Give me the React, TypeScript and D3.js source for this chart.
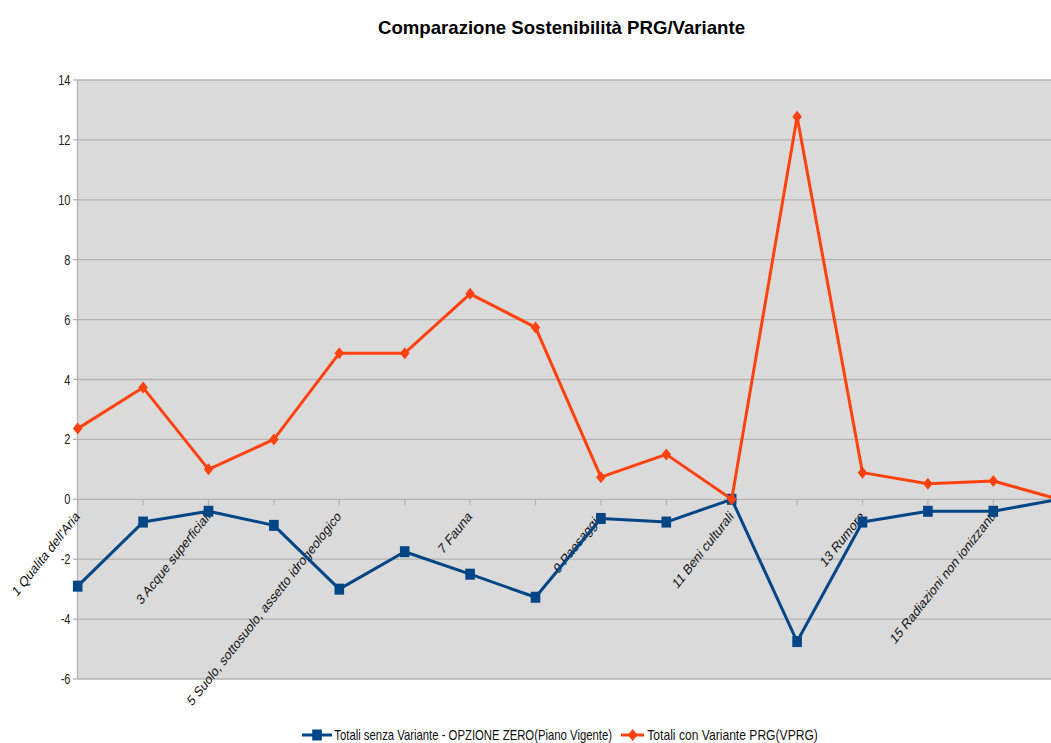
import React from "react";
import * as d3 from "d3";

// Categories of the sustainability matrix (only odd ones carry a visible label)
const categories = [
  "1 Qualita dell'Aria",
  "2",
  "3 Acque superficiali",
  "4",
  "5 Suolo, sottosuolo, assetto idrogeologico",
  "6",
  "7 Fauna",
  "8",
  "9 Paesaggio",
  "10",
  "11 Beni culturali",
  "12",
  "13 Rumore",
  "14",
  "15 Radiazioni non ionizzanti",
  "16",
];

// Totals without the variant (zero option, current plan)
const senzaVariante = [
  -2.9, -0.76, -0.4, -0.87, -3.0, -1.75, -2.5, -3.27, -0.64, -0.76, 0, -4.75,
  -0.76, -0.4, -0.4, 0,
];

// Totals with the PRG variant
const conVariante = [
  2.36, 3.73, 1.0, 2.0, 4.88, 4.88, 6.86, 5.74, 0.74, 1.5, 0, 12.77, 0.89, 0.52,
  0.61, 0,
];

const yTicks = [-6, -4, -2, 0, 2, 4, 6, 8, 10, 12, 14];

const seriesNames = [
  "Totali senza Variante - OPZIONE ZERO(Piano Vigente)",
  "Totali con Variante PRG(VPRG)",
];

const chartTitle = "Comparazione Sostenibilità PRG/Variante";

const W = 1051;
const H = 743;
const SX = 0.79; // horizontal condensing of the lettering
const FONT = "'Liberation Sans', Arial, Helvetica, sans-serif";
const BLUE = "#004586";
const ORANGE = "#ff420e";
const GRID = "#b3b3b3";
const WALL = "#dadada";

export default function App() {
  const plotLeft = 77.5;
  const plotTop = 80;
  const plotBottom = 679;

  const x = d3
    .scalePoint<string>()
    .domain(categories)
    .range([77.7, 1058.7]);
  const y = d3.scaleLinear().domain([-6, 14]).range([plotBottom, plotTop]);

  const line = d3
    .line<number>()
    .x((_, i) => x(categories[i]) as number)
    .y((d) => y(d));

  const plotRight = x(categories[categories.length - 1]) as number;

  const square = "M-4.8,-5.5 L4.8,-5.5 L4.8,5.5 L-4.8,5.5 Z";
  const diamond = "M0,-6 L4.8,0 L0,6 L-4.8,0 Z";

  return (
    <div style={{ position: "absolute", left: 0, top: 0 }}>
      <svg
        width={W}
        height={H}
        viewBox={`0 0 ${W} ${H}`}
        style={{ display: "block", background: "#ffffff", fontFamily: FONT }}
      >
        {/* title */}
        <text
          x={561.5}
          y={34}
          textAnchor="middle"
          fontSize={19}
          fontWeight="bold"
          fill="#000"
          textLength={367}
          lengthAdjust="spacingAndGlyphs"
        >
          {chartTitle}
        </text>

        {/* plot wall */}
        <rect
          x={plotLeft}
          y={plotTop}
          width={plotRight - plotLeft}
          height={plotBottom - plotTop}
          fill={WALL}
        />

        {/* horizontal gridlines and y axis */}
        {yTicks.map((t) => (
          <g key={t}>
            <line
              x1={plotLeft}
              x2={plotRight}
              y1={y(t)}
              y2={y(t)}
              stroke={GRID}
              strokeWidth={1.3}
            />
            <line
              x1={plotLeft - 4.5}
              x2={plotLeft}
              y1={y(t)}
              y2={y(t)}
              stroke={GRID}
              strokeWidth={1.3}
            />
            <text
              transform={`translate(70.5,${y(t)}) scale(${SX},1)`}
              textAnchor="end"
              dy="0.36em"
              fontSize={14}
              fill="#222"
            >
              {t}
            </text>
          </g>
        ))}
        <line
          x1={plotLeft}
          x2={plotLeft}
          y1={plotTop}
          y2={plotBottom}
          stroke={GRID}
          strokeWidth={1.3}
        />

        {/* category ticks on the zero line */}
        {categories.map((c) => (
          <line
            key={c}
            x1={x(c) as number}
            x2={x(c) as number}
            y1={y(0)}
            y2={y(0) + 6}
            stroke={GRID}
            strokeWidth={1.3}
          />
        ))}

        {/* category labels, every other one */}
        {categories.map((c, i) =>
          i % 2 === 0 ? (
            <text
              key={`lab-${c}`}
              transform={`translate(${(x(c) as number) + 2.5},${y(0) + 18}) scale(${SX},1) rotate(-45)`}
              textAnchor="end"
              fontSize={14.5}
              fill="#111"
            >
              {c}
            </text>
          ) : null
        )}

        {/* series: without variant */}
        <path
          d={line(senzaVariante) as string}
          fill="none"
          stroke={BLUE}
          strokeWidth={3}
          strokeLinejoin="round"
        />
        {senzaVariante.map((v, i) => (
          <path
            key={`s-${i}`}
            d={square}
            transform={`translate(${x(categories[i])},${y(v)})`}
            fill={BLUE}
          />
        ))}

        {/* series: with variant */}
        <path
          d={line(conVariante) as string}
          fill="none"
          stroke={ORANGE}
          strokeWidth={3}
          strokeLinejoin="round"
        />
        {conVariante.map((v, i) => (
          <path
            key={`c-${i}`}
            d={diamond}
            transform={`translate(${x(categories[i])},${y(v)})`}
            fill={ORANGE}
          />
        ))}

        {/* legend */}
        <g>
          <line x1={302} x2={332} y1={735} y2={735} stroke={BLUE} strokeWidth={3} />
          <path d={square} transform="translate(317,735)" fill={BLUE} />
          <text
            transform="translate(334.3,740) scale(0.81,1)"
            fontSize={14}
            fill="#111"
          >
            {seriesNames[0]}
          </text>
          <line x1={621} x2={644} y1={735} y2={735} stroke={ORANGE} strokeWidth={3} />
          <path d={diamond} transform="translate(632.7,735)" fill={ORANGE} />
          <text
            transform="translate(647.3,740) scale(0.865,1)"
            fontSize={14}
            fill="#111"
          >
            {seriesNames[1]}
          </text>
        </g>
      </svg>
    </div>
  );
}
